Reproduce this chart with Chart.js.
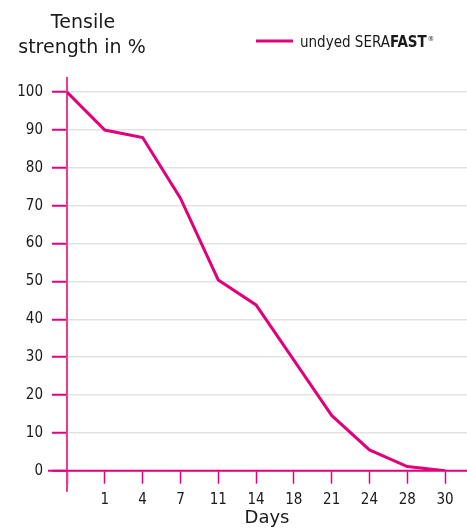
<!DOCTYPE html>
<html>
<head>
<meta charset="utf-8">
<script src="https://cdn.jsdelivr.net/npm/chart.js@4"></script>
<style>
  html, body { margin: 0; padding: 0; background: #ffffff; }
  #wrap { position: relative; width: 467px; height: 530px; }
</style>
</head>
<body>
<div id="wrap"><canvas id="strengthChart" width="467" height="530"></canvas></div>
<script>
// Day tick labels (first slot is the origin, left unlabeled)
const dayLabels = ['', '1', '4', '7', '11', '14', '18', '21', '24', '28', '30'];

// Tensile strength in %, one value per day slot
const strengthValues = [100, 90, 88, 72, 50.4, 43.8, 29.2, 14.6, 5.5, 1.1, 0];

// Y axis tick values
const yTickValues = [0, 10, 20, 30, 40, 50, 60, 70, 80, 90, 100];

const seriesName = 'undyed SERA';
const seriesNameBold = 'FAST';

const PINK = '#e2007a';
const AXIS_PINK = '#e4007c';
const TEXT = '#1a1a1a';
const TICK_FONT = '"DejaVu Sans Condensed", "DejaVu Sans", sans-serif';
const TITLE_FONT = '"DejaVu Sans", sans-serif';

/**
 * Axis lines (drawn under the series) and titles / legend (drawn on top)
 */
const decorPlugin = {
  id: 'decor',
  beforeDatasetsDraw(chart) {
    const { ctx, chartArea, scales: { x, y } } = chart;
    const x0 = x.getPixelForValue(0);
    const y0 = y.getPixelForValue(0);

    ctx.save();
    // vertical axis, running a bit below the horizontal one
    ctx.strokeStyle = '#e63d95';
    ctx.lineWidth = 2;
    ctx.beginPath();
    ctx.moveTo(x0, chartArea.top);
    ctx.lineTo(x0, y0 + 21);
    ctx.stroke();

    // horizontal axis, running a bit left of the vertical one
    ctx.strokeStyle = AXIS_PINK;
    ctx.beginPath();
    ctx.moveTo(x0 - 19, y0);
    ctx.lineTo(chartArea.right, y0);
    ctx.stroke();
    ctx.restore();
  },
  afterDraw(chart) {
    const { ctx } = chart;
    ctx.save();

    // y axis title
    ctx.fillStyle = TEXT;
    ctx.font = '19px ' + TITLE_FONT;
    ctx.textAlign = 'center';
    ctx.textBaseline = 'alphabetic';
    ctx.fillText('Tensile', 83, 28);
    ctx.fillText('strength in %', 82, 53);

    // legend
    ctx.strokeStyle = PINK;
    ctx.lineWidth = 3;
    ctx.beginPath();
    ctx.moveTo(256, 41);
    ctx.lineTo(293, 41);
    ctx.stroke();

    ctx.textAlign = 'left';
    let lx = 300;
    ctx.font = '15px ' + TICK_FONT;
    ctx.fillText(seriesName, lx, 47);
    lx += ctx.measureText(seriesName).width;
    ctx.font = 'bold 15px ' + TICK_FONT;
    ctx.fillText(seriesNameBold, lx, 47);
    lx += ctx.measureText(seriesNameBold).width + 1;
    ctx.font = '7px ' + TICK_FONT;
    ctx.fillText('\u00AE', lx, 41);

    ctx.restore();
  },
};

const ctx = document.getElementById('strengthChart').getContext('2d');

new Chart(ctx, {
  type: 'line',
  data: {
    datasets: [
      {
        label: seriesName + seriesNameBold,
        data: strengthValues.map((v, i) => ({ x: i, y: v })),
        borderColor: PINK,
        borderWidth: 3,
        pointRadius: 0,
        tension: 0,
        fill: false,
      },
    ],
  },
  options: {
    responsive: false,
    animation: false,
    layout: { padding: { top: 77, right: 0, bottom: 0, left: 0 } },
    plugins: {
      legend: { display: false },
      tooltip: { enabled: false },
    },
    scales: {
      x: {
        type: 'linear',
        min: 0,
        max: 10.58,
        afterBuildTicks: (scale) => {
          scale.ticks = dayLabels.map((_, i) => ({ value: i }));
        },
        afterFit: (scale) => {
          scale.height = 59.3;
        },
        border: { display: false },
        grid: {
          drawOnChartArea: false,
          tickLength: 13,
          tickColor: AXIS_PINK,
          tickWidth: 1.5,
        },
        ticks: {
          autoSkip: false,
          maxRotation: 0,
          padding: 7,
          color: TEXT,
          font: { family: TICK_FONT, size: 15 },
          callback: (value) => dayLabels[value] ?? '',
        },
        title: {
          display: true,
          text: 'Days',
          color: TEXT,
          font: { family: TITLE_FONT, size: 18 },
          padding: { top: 0, bottom: 1 },
        },
      },
      y: {
        min: 0,
        max: 104,
        afterBuildTicks: (scale) => {
          scale.ticks = yTickValues.map((v) => ({ value: v }));
        },
        afterFit: (scale) => {
          scale.width = 67;
        },
        border: { display: false },
        grid: {
          color: '#e2e2e2',
          lineWidth: 1.5,
          tickLength: 15,
          tickColor: AXIS_PINK,
          tickWidth: 2,
        },
        ticks: {
          padding: 9,
          color: TEXT,
          font: { family: TICK_FONT, size: 15 },
        },
      },
    },
  },
  plugins: [decorPlugin],
});
</script>
</body>
</html>
